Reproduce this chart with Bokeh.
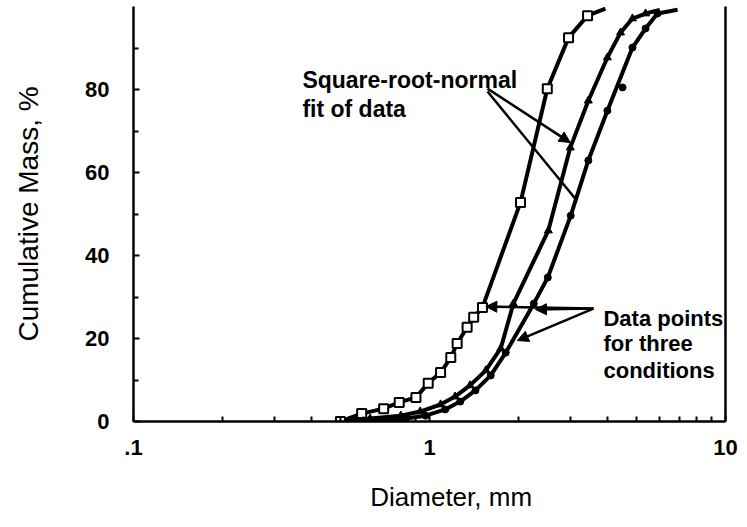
from bokeh.plotting import figure
from bokeh.models import FixedTicker, LinearAxis, Arrow, NormalHead, Range1d
from bokeh.core.properties import value
from bokeh.embed import file_html
from bokeh.resources import INLINE

# ---- data ----
# condition 1 (squares)
sq_x = [0.50, 0.59, 0.70, 0.79, 0.90, 0.99, 1.09, 1.18, 1.24, 1.34, 1.41, 1.51, 2.03, 2.50, 2.95, 3.42]
sq_y = [0.0, 1.9, 3.1, 4.6, 5.8, 9.2, 11.8, 15.4, 18.8, 22.7, 25.1, 27.5, 52.8, 80.2, 92.5, 97.8]
sq_fit_x = [0.50, 0.59, 0.70, 0.79, 0.90, 0.99, 1.09, 1.18, 1.24, 1.34, 1.41, 1.51, 2.03, 2.50, 2.95, 3.42, 3.93]
sq_fit_y = [0.0, 1.9, 3.1, 4.6, 5.8, 9.2, 11.8, 15.4, 18.8, 22.7, 25.1, 27.5, 52.8, 80.2, 92.5, 97.8, 99.5]

# condition 2 (triangles)
tr_x = [0.63, 0.80, 0.93, 1.09, 1.22, 1.37, 1.55, 1.74, 1.92, 2.52, 2.99, 3.44, 3.99, 4.42, 4.85, 5.37]
tr_y = [0.7, 1.4, 2.4, 4.1, 6.0, 8.7, 12.3, 17.6, 28.4, 46.0, 66.0, 77.3, 87.7, 93.7, 97.1, 98.3]
tr_fit_x = [0.50, 0.63, 0.80, 0.93, 1.09, 1.22, 1.37, 1.55, 1.74, 1.92, 2.52, 2.99, 3.44, 3.99, 4.42, 4.85, 5.37, 6.00]
tr_fit_y = [0.0, 0.7, 1.4, 2.4, 4.1, 6.0, 8.7, 12.3, 17.6, 28.4, 46.0, 66.0, 77.3, 87.7, 93.7, 97.1, 98.3, 99.2]

# condition 3 (circles)
ci_x = [0.66, 0.83, 0.97, 1.13, 1.27, 1.43, 1.61, 1.81, 2.25, 2.51, 3.00, 3.44, 3.99, 4.49, 4.85, 5.37, 5.89]
ci_y = [0.2, 0.7, 1.4, 2.9, 4.8, 7.5, 11.1, 16.6, 28.4, 34.7, 49.6, 62.9, 74.9, 80.5, 90.1, 94.7, 98.3]
ci_fit_x = [0.50, 0.66, 0.83, 0.97, 1.13, 1.27, 1.43, 1.61, 1.81, 2.25, 2.51, 3.00, 3.44, 3.99, 4.85, 5.37, 5.89, 6.89]
ci_fit_y = [0.0, 0.2, 0.7, 1.4, 2.9, 4.8, 7.5, 11.1, 16.6, 28.4, 34.7, 49.6, 62.9, 74.9, 90.1, 94.7, 98.3, 99.2]

# tick labels
y_ticks = [0, 20, 40, 60, 80]
y_minor = [10, 30, 50, 70, 90]
x_ticks = [0.1, 1, 10]
x_tick_labels = [".1", "1", "10"]
x_minor = [0.2, 0.3, 0.4, 0.5, 0.6, 0.7, 0.8, 0.9, 2, 3, 4, 5, 6, 7, 8, 9]

# annotations
fit_text = ["Square-root-normal", "fit of data"]
fit_text_x = [0.372, 0.372]
fit_text_y = [82.2, 75.4]
data_text = ["Data points", "for three", "conditions"]
data_text_x = [3.87, 3.87, 3.87]
data_text_y = [24.8, 18.8, 12.3]
arrow_x0 = [1.57, 1.57, 3.58, 3.58, 3.58]
arrow_y0 = [80.2, 79.5, 27.2, 27.2, 27.2]
arrow_x1 = [2.99, 3.14, 1.55, 2.28, 1.98]
arrow_y1 = [67.2, 53.3, 27.7, 27.0, 19.5]
arrow_head = [True, False, True, True, True]

FONT = "Liberation Sans"

p = figure(width=747, height=527, x_axis_type="log",
           x_range=Range1d(0.1, 10), y_range=Range1d(0, 100),
           output_backend="svg", toolbar_location=None,
           min_border_left=133, min_border_right=22,
           min_border_top=6, min_border_bottom=106)
p.outline_line_color = None
p.grid.visible = False

# axes
for ax in (p.xaxis[0], p.yaxis[0]):
    ax.axis_line_width = 2.5
    ax.axis_line_color = "black"
    ax.major_tick_in = 6
    ax.major_tick_out = 0
    ax.minor_tick_in = 5
    ax.minor_tick_out = 0
    ax.major_tick_line_width = 2
    ax.minor_tick_line_width = 2
    ax.major_label_text_font = FONT
    ax.major_label_text_font_style = "bold"
    ax.major_label_text_font_size = "22px"
    ax.major_label_text_color = "black"
    ax.axis_label_text_font = FONT
    ax.axis_label_text_font_style = "normal"
    ax.axis_label_text_color = "black"

p.yaxis.ticker = FixedTicker(ticks=y_ticks, minor_ticks=y_minor)
p.yaxis.major_label_standoff = 24
p.yaxis.axis_label = "Cumulative Mass, %"
p.yaxis.axis_label_text_font_size = "28px"
p.yaxis.axis_label_standoff = 38

p.xaxis.ticker = FixedTicker(ticks=x_ticks, minor_ticks=x_minor)
p.xaxis.major_label_overrides = {t: l for t, l in zip(x_ticks, x_tick_labels)}
p.xaxis.major_label_standoff = 18
p.xaxis.axis_label = "\u00a0" * 6 + "Diameter, mm"
p.xaxis.axis_label_text_font_size = "26px"
p.xaxis.axis_label_standoff = 24

right = LinearAxis(ticker=FixedTicker(ticks=[]), axis_line_width=2.5,
                   axis_line_color="black",
                   major_tick_line_color=None, minor_tick_line_color=None,
                   major_label_text_color=None)
p.add_layout(right, "right")

# fit lines
for fx, fy in ((sq_fit_x, sq_fit_y), (tr_fit_x, tr_fit_y), (ci_fit_x, ci_fit_y)):
    p.line(fx, fy, line_width=4, line_color="black", line_join="round")

# data points
p.scatter(tr_x, tr_y, marker="triangle", size=8, fill_color="black", line_color="black")
p.scatter(ci_x, ci_y, marker="circle", size=7, fill_color="black", line_color="black")
p.scatter(sq_x, sq_y, marker="square", size=9, fill_color="white", line_color="black", line_width=2)

# annotation arrows
for x0, y0, x1, y1, h in zip(arrow_x0, arrow_y0, arrow_x1, arrow_y1, arrow_head):
    head = NormalHead(size=11, fill_color="black", line_color="black") if h else None
    p.add_layout(Arrow(x_start=x0, y_start=y0, x_end=x1, y_end=y1, end=head,
                       line_width=2.5, line_color="black"))

p.text(fit_text_x, fit_text_y, text=fit_text, text_font=value(FONT),
       text_font_style="bold", text_font_size="23px", text_baseline="alphabetic",
       text_color="black")
p.text(data_text_x, data_text_y, text=data_text, text_font=value(FONT),
       text_font_style="bold", text_font_size="22px", text_baseline="alphabetic",
       text_color="black")

open("out.html", "w").write(file_html(p, INLINE))
